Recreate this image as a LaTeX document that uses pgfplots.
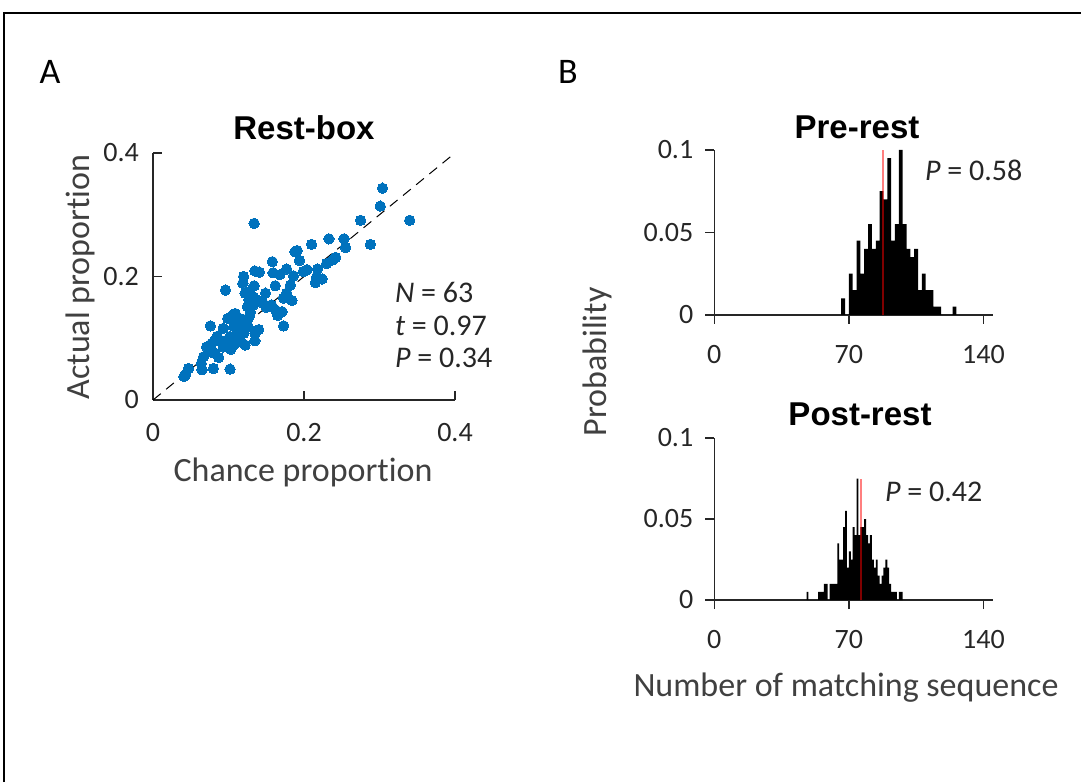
\documentclass[border=0pt]{standalone}
\usepackage{fontspec}
\setmainfont{Carlito}[Ligatures=NoCommon]
\newfontfamily\arialfont{Liberation Sans}
\usepackage{pgfplots}
\usepackage{pgfplotstable}
\pgfplotsset{compat=1.18}

\definecolor{mblue}{HTML}{0072BD}
\definecolor{axgray}{HTML}{262626}
\definecolor{labgray}{HTML}{404040}

\newcommand\ticksize{\fontsize{14}{16}\selectfont}
\newcommand\labsize{\fontsize{17}{20}\selectfont}
\newcommand\annsize{\fontsize{15}{18}\selectfont}
\newcommand\titlesize{\arialfont\bfseries\fontsize{16.5}{19}\selectfont}

% panel A: chance vs actual proportion
\pgfplotstableread{
x y
0.304 0.343
0.301 0.314
0.340 0.291
0.275 0.291
0.288 0.252
0.134 0.286
0.233 0.261
0.253 0.261
0.255 0.247
0.210 0.252
0.188 0.240
0.191 0.242
0.194 0.226
0.158 0.224
0.242 0.231
0.238 0.227
0.230 0.221
0.218 0.212
0.204 0.211
0.199 0.208
0.177 0.212
0.168 0.203
0.159 0.206
0.135 0.209
0.141 0.207
0.186 0.201
0.217 0.200
0.224 0.196
0.215 0.190
0.120 0.200
0.119 0.189
0.134 0.185
0.162 0.185
0.096 0.178
0.149 0.173
0.182 0.186
0.177 0.173
0.173 0.165
0.184 0.161
0.122 0.173
0.127 0.162
0.133 0.154
0.138 0.162
0.125 0.151
0.157 0.154
0.162 0.146
0.171 0.143
0.165 0.137
0.173 0.120
0.129 0.142
0.106 0.138
0.099 0.132
0.111 0.127
0.124 0.130
0.127 0.134
0.076 0.120
0.093 0.116
0.107 0.119
0.116 0.119
0.140 0.114
0.135 0.108
0.120 0.108
0.111 0.105
0.102 0.103
0.085 0.103
0.082 0.097
0.089 0.095
0.098 0.097
0.116 0.095
0.135 0.096
0.122 0.089
0.107 0.089
0.071 0.086
0.103 0.082
0.076 0.078
0.087 0.069
0.082 0.076
0.067 0.070
0.064 0.059
0.065 0.049
0.080 0.051
0.102 0.050
0.047 0.051
0.043 0.041
0.041 0.038
0.102 0.134
0.109 0.140
0.115 0.132
0.120 0.124
0.126 0.119
0.111 0.097
0.093 0.086
0.078 0.092
0.133 0.167
0.128 0.176
0.146 0.156
0.150 0.150
}\restbox

% panel B: shuffle distributions (left bin edge, probability)
\pgfplotstableread{
e p
66 0.01
68 0
70 0.025
72 0.015
74 0.045
76 0.025
78 0.04
80 0.055
82 0.04
84 0.045
86 0.075
88 0.07
90 0.095
92 0.045
94 0.055
96 0.1
98 0.055
100 0.04
102 0.035
104 0.04
106 0.015
108 0.025
110 0.015
112 0.015
114 0.005
116 0.005
118 0
124 0.005
126 0
}\prerest

\pgfplotstableread{
e p
48 0.005
49 0
54 0.005
55 0.005
56 0.005
57 0.01
58 0.01
59 0
60 0.01
61 0.01
62 0.01
63 0.01
64 0.035
65 0.025
66 0.025
67 0.045
68 0.055
69 0.02
70 0.03
71 0.025
72 0.045
73 0.04
74 0.075
75 0.04
76 0.045
77 0.045
78 0.05
79 0.04
80 0.035
81 0.04
82 0.025
83 0.02
84 0.025
85 0.015
86 0.01
87 0.015
88 0.02
89 0.025
90 0.02
91 0.01
92 0.005
93 0.005
94 0.005
95 0
96 0.005
97 0.005
98 0
}\postrest

\pgfplotsset{
  matlab/.style={
    scale only axis,
    axis lines=left,
    axis line style={-, axgray, line width=0.7pt},
    tick style={axgray, line width=0.7pt},
    tick label style={font=\ticksize, text=axgray},
    scaled ticks=false,
  },
  hist/.style={
    matlab,
    width=139.35pt, height=82.5pt,
    xmin=0, xmax=145, ymin=0, ymax=0.1,
    tick align=outside, major tick length=4.5pt,
    xtick={0,70,140}, xticklabels={0,70,140},
    ytick={0,0.05,0.1}, yticklabels={0,0.05,0.1},
    xticklabel style={yshift=-7pt},
    yticklabel style={xshift=-2.5pt},
  },
}

\begin{document}
\begin{tikzpicture}
\path[use as bounding box] (0,0) rectangle (540.5pt,391pt);
\draw[black, line width=0.8pt] (2pt,0) -- (2pt,384.5pt) -- (540.5pt,384.5pt);

% A
\begin{axis}[matlab,
  at={(76.5pt,191pt)}, anchor=south west,
  width=151pt, height=123.5pt,
  xmin=0, xmax=0.4, ymin=0, ymax=0.4,
  tick align=inside, major tick length=4.5pt,
  xtick={0,0.2,0.4}, xticklabels={0,0.2,0.4},
  ytick={0,0.2,0.4}, yticklabels={0,0.2,0.4},
  xticklabel style={yshift=-8pt},
  yticklabel style={xshift=-3.5pt},
  clip=false]
\addplot[only marks, mark=*, mark size=2.6pt,
  mark options={fill=mblue, draw=mblue, line width=0pt}] table[x=x, y=y] {\restbox};
\addplot[black, line width=0.5pt, dash pattern=on 5pt off 3.5pt] coordinates {(0,0) (0.4,0.4)};
\end{axis}

% B top
\begin{axis}[hist, at={(357.15pt,233.5pt)}, anchor=south west]
\addplot[const plot mark left, fill=black, draw=none] table[x=e, y=p] {\prerest} \closedcycle;
\addplot[red, opacity=0.5, line width=1pt] coordinates {(88,0) (88,0.1)};
\end{axis}

% B bottom
\begin{axis}[hist, at={(357.15pt,91pt)}, anchor=south west, height=81pt]
\addplot[const plot mark left, fill=black, draw=none] table[x=e, y=p] {\postrest} \closedcycle;
\addplot[red, opacity=0.5, line width=1pt] coordinates {(76.2,0) (76.2,0.075)};
\end{axis}

% panel letters
\node[font=\fontsize{18}{20}\selectfont] at (25pt,355pt) {A};
\node[font=\fontsize{18}{20}\selectfont] at (284pt,355pt) {B};

% titles
\node[font=\titlesize] at (152pt,327pt) {Rest-box};
\node[font=\titlesize] at (428.5pt,327.5pt) {Pre-rest};
\node[font=\titlesize] at (430pt,184pt) {Post-rest};

% axis labels
\node[font=\labsize, text=labgray, rotate=90] at (40pt,252.5pt) {Actual proportion};
\node[font=\labsize, text=labgray] at (151.5pt,155pt) {Chance proportion};
\node[font=\labsize, text=labgray, rotate=90] at (298.5pt,210pt) {Probability};
\node[font=\labsize, text=labgray] at (423pt,47pt) {Number of matching sequence};

% statistics
\node[anchor=west, font=\annsize, text=axgray] at (194pt,245pt) {\textit{N} = 63};
\node[anchor=west, font=\annsize, text=axgray] at (194pt,228pt) {\textit{t} = 0.97};
\node[anchor=west, font=\annsize, text=axgray] at (194pt,212pt) {\textit{P} = 0.34};
\node[anchor=west, font=\annsize, text=axgray] at (459pt,306pt) {\textit{P} = 0.58};
\node[anchor=west, font=\annsize, text=axgray] at (439pt,145pt) {\textit{P} = 0.42};
\end{tikzpicture}
\end{document}
